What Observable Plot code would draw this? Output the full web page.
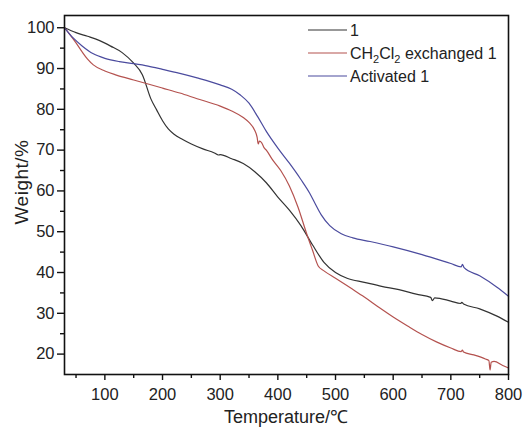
<!DOCTYPE html>
<html>
<head>
<meta charset="utf-8">
<script src="https://cdn.jsdelivr.net/npm/d3@7"></script>
<script src="https://cdn.jsdelivr.net/npm/@observablehq/plot@0.6"></script>
<style>
  html, body { margin: 0; padding: 0; background: #fff; }
  #chart { width: 525px; height: 428px; }
</style>
</head>
<body>
<div id="chart"></div>
<script>
// Series names
const seriesNames = ["1", "CH2Cl2 exchanged 1", "Activated 1"];
const seriesColors = ["#333333", "#b4524f", "#4b4b9e"];

// Sample "1"
const tempS1 = [30,50,70,90,110,130,150,165,180,190,200,210,220,235,250,270,290,297,300,320,340,360,380,400,420,440,460,480,500,520,550,580,610,640,665,668,672,700,717,719,722,750,780,800];
const wtS1   = [100,98.8,97.9,96.9,95.5,93.9,91.3,88.5,82.5,79.8,77.2,75.2,73.9,72.6,71.5,70.3,69.3,68.8,68.9,67.9,66.7,64.7,62.0,58.5,55.3,51.5,46.8,42.5,40.0,38.6,37.6,36.6,35.8,34.7,33.9,33.1,33.8,33.0,32.4,32.7,32.3,31.1,29.3,27.8];

// CH2Cl2 exchanged 1
const tempS2 = [30,40,50,60,70,80,100,120,150,175,200,230,260,300,320,340,350,360,364,366,368,372,376,380,390,405,420,435,450,460,470,480,500,525,550,575,600,625,650,675,700,718,720,722,740,760,766,768,770,775,790,800];
const wtS2   = [100,98.2,96.3,94.2,92.3,90.9,89.4,88.4,87.2,86.2,85.2,84.0,82.6,80.8,79.6,78.0,76.8,74.8,73.2,71.5,72.2,71.8,70.6,70.0,67.8,65.0,61.2,56.0,49.5,45.5,41.6,40.4,38.6,36.3,34.0,31.5,29.1,26.9,24.8,23.0,21.5,20.6,21.0,20.5,19.8,18.8,18.4,16.1,18.0,18.2,17.2,16.6];

// Activated 1
const tempS3 = [30,45,60,80,100,125,150,175,200,230,260,300,320,335,350,365,380,400,420,440,455,465,475,490,510,530,560,600,650,700,718,720,723,750,780,800];
const wtS3   = [100,97.5,95.6,93.6,92.5,91.7,91.2,90.6,89.8,88.8,87.7,86.0,84.9,83.5,81.5,78.2,74.6,70.5,66.8,62.8,59.5,56.8,54.2,51.5,49.5,48.5,47.6,46.3,44.4,42.2,41.4,42.0,41.2,39.2,36.4,34.2];

// Tick values
const xMajor = [100,200,300,400,500,600,700,800];
const xMinor = [50,150,250,350,450,550,650,750];
const yMajor = [20,30,40,50,60,70,80,90,100];
const yMinor = [25,35,45,55,65,75,85,95];

const xTitle = "Temperature/℃";
const yTitle = "Weight/%";

const temps = [tempS1, tempS2, tempS3];
const wts = [wtS1, wtS2, wtS3];
const data = [];
seriesNames.forEach((name, i) => {
  temps[i].forEach((t, j) => data.push({series: name, t, w: wts[i][j]}));
});

const font = "'Liberation Sans', Arial, sans-serif";

const plot = Plot.plot({
  width: 525,
  height: 428,
  marginTop: 15,
  marginBottom: 54,
  marginLeft: 64,
  marginRight: 17,
  style: {fontFamily: font, fontSize: "16px", color: "#222", background: "#fff"},
  x: {domain: [30, 800]},
  y: {domain: [15, 103]},
  color: {domain: seriesNames, range: seriesColors},
  marks: [
    Plot.line(data, {x: "t", y: "w", z: "series", stroke: "series", strokeWidth: 1.2, curve: "monotone-x"}),
    Plot.frame({stroke: "#111", strokeWidth: 1.6}),
    Plot.axisX({ticks: xMajor, tickSize: 6, tickPadding: 8, tickFormat: d => String(d), fontSize: 16.5, label: null, stroke: "#111", strokeWidth: 1.4}),
    Plot.axisX({ticks: xMinor, tickSize: 4, text: null, label: null, stroke: "#111", strokeWidth: 1.4}),
    Plot.axisY({ticks: yMajor, tickSize: 7, tickPadding: 3, tickFormat: d => String(d), fontSize: 16.5, label: null, stroke: "#111", strokeWidth: 1.4}),
    Plot.axisY({ticks: yMinor, tickSize: 4, text: null, label: null, stroke: "#111", strokeWidth: 1.4})
  ]
});

document.getElementById("chart").appendChild(plot);

const svg = d3.select(plot);

// Axis titles
svg.append("text").text(xTitle)
  .attr("x", 286).attr("y", 417).attr("dy", "0.35em")
  .attr("text-anchor", "middle").attr("font-family", font).attr("font-size", 18).attr("fill", "#222");
svg.append("text").text(yTitle)
  .attr("transform", "translate(21,182) rotate(-90)").attr("dy", "0.35em")
  .attr("text-anchor", "middle").attr("font-family", font).attr("font-size", 19)
  .attr("letter-spacing", "0.5px").attr("fill", "#222");

// Legend (top-right inside frame)
const lg = svg.append("g").attr("font-family", font).attr("font-size", 16)
  .attr("fill", "#222").attr("text-anchor", "start");
const rows = [30, 53, 76];
const labels = [
  [{t: "1"}],
  [{t: "CH"}, {t: "2", dy: 4, size: 11}, {t: "Cl", dy: -4}, {t: "2", dy: 4, size: 11}, {t: " exchanged 1", dy: -4}],
  [{t: "Activated 1"}]
];
rows.forEach((y, i) => {
  lg.append("line").attr("x1", 308).attr("x2", 347).attr("y1", y).attr("y2", y)
    .attr("stroke", seriesColors[i]).attr("stroke-width", 1.2);
  const txt = lg.append("text").attr("x", 350).attr("y", y + 6);
  labels[i].forEach(p => {
    const ts = txt.append("tspan").text(p.t);
    if (p.size) ts.attr("font-size", p.size);
    if (p.dy) ts.attr("dy", p.dy);
  });
});
</script>
</body>
</html>
